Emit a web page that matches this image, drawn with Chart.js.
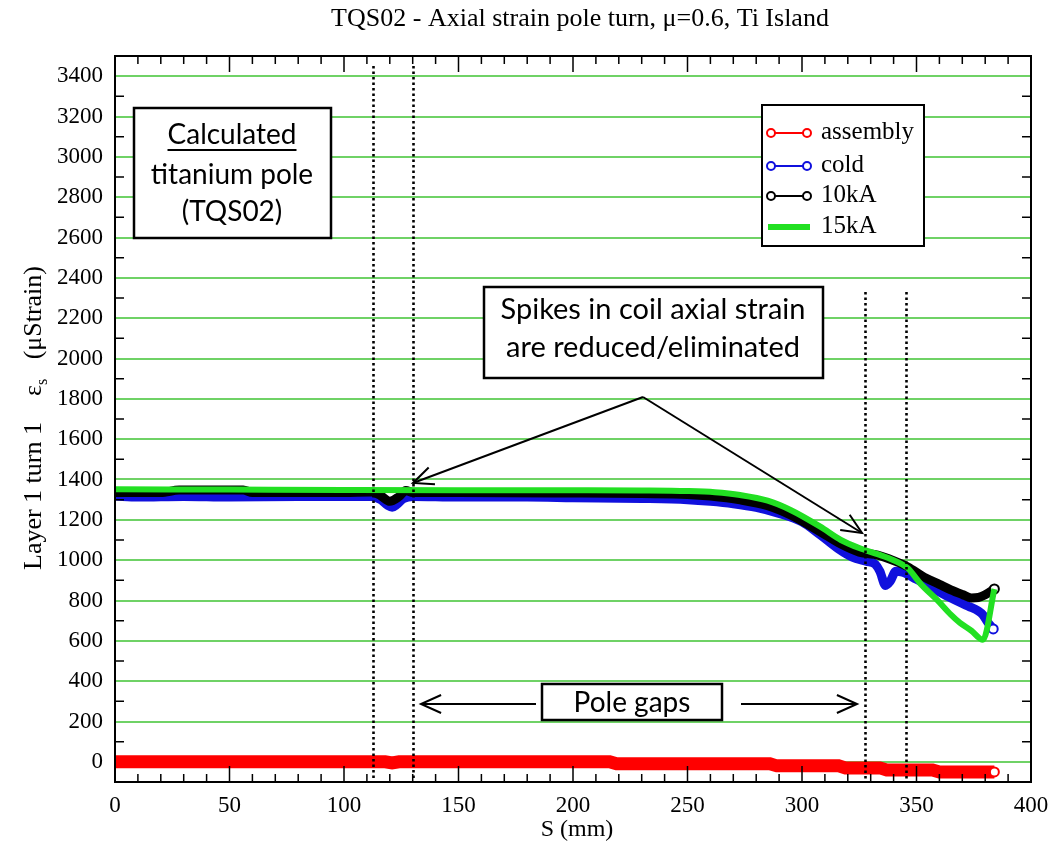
<!DOCTYPE html>
<html><head><meta charset="utf-8">
<script src="https://cdn.jsdelivr.net/npm/chart.js@4.4.1/dist/chart.umd.min.js"></script>
<style>html,body{margin:0;padding:0;background:#fff;}canvas{display:block;}</style>
</head><body>
<canvas id="c" width="1064" height="848"></canvas>
<script>
// ---- data ----
const assemblyS      = [0, 20, 50, 100, 118, 121, 124, 150, 200, 216, 219, 250, 286, 289, 300, 316, 319, 330, 334, 337, 350, 357, 360, 370, 384];
const assemblyStrain = [0, 0, 0, 0, 0, -5, 0, 0, 0, 0, -10, -10, -10, -20, -20, -20, -30, -30, -30, -40, -40, -40, -50, -50, -50];

const coldS      = [0, 10, 30, 50, 80, 100, 112, 116, 119, 121, 123, 126, 130, 150, 180, 200, 230, 250, 260, 270, 280, 290, 300, 308, 316, 322, 328, 332, 334, 336.5, 338.5, 341, 344, 350, 356, 364, 370, 373, 377, 379, 381, 383.5];
const coldStrain = [1318, 1313, 1316, 1313, 1316, 1316, 1316, 1300, 1272, 1262, 1275, 1305, 1316, 1313, 1313, 1310, 1306, 1300, 1292, 1280, 1262, 1232, 1190, 1125, 1055, 1015, 995, 980, 945, 875, 895, 945, 940, 905, 868, 818, 785, 770, 748, 729, 694, 659];

const kA10S      = [0, 20, 28, 56, 60, 100, 112, 116, 120, 124, 127, 130, 150, 200, 230, 250, 260, 273, 285, 295, 308, 317, 325, 333, 340, 346, 354, 360, 365, 370, 374, 377, 380, 384];
const kA10Strain = [1335, 1335, 1348, 1348, 1336, 1336, 1338, 1320, 1292, 1315, 1345, 1336, 1336, 1333, 1330, 1326, 1318, 1299, 1270, 1224, 1141, 1080, 1040, 1025, 998, 968, 912, 880, 853, 830, 813, 815, 828, 857];

const kA15S      = [0, 50, 100, 150, 200, 230, 250, 262, 273, 285, 295, 308, 317, 325, 333, 340, 346, 352, 359, 365, 369, 374, 379, 384];
const kA15Strain = [1352, 1350, 1348, 1347, 1347, 1346, 1343, 1337, 1323, 1295, 1249, 1166, 1100, 1060, 1030, 1000, 962, 880, 803, 730, 689, 650, 605, 857];

const seriesNames  = ['assembly', 'cold', '10kA', '15kA'];
const poleGapS     = [112.5, 130, 327.5, 345.5];
const poleGapTop   = [3450, 3450, 2330, 2330];
const yTickLabels  = [0, 200, 400, 600, 800, 1000, 1200, 1400, 1600, 1800, 2000, 2200, 2400, 2600, 2800, 3000, 3200, 3400];
const xTickLabels  = [0, 50, 100, 150, 200, 250, 300, 350, 400];

// ---- styling ----
const SERIF = '"Liberation Serif", "Times New Roman", serif';
const SANS  = 'Lato, "Liberation Sans", sans-serif';
const GRID_GREEN = '#6fd266';
const COLORS = {assembly:'#ff0000', cold:'#1010dd', k10:'#000000', k15:'#22e022'};

function pts(xs, ys){ return xs.map((x,i)=>({x:x, y:ys[i]})); }
function endMarker(n){ return ctx => ctx.dataIndex === n-1 ? 4.5 : 0; }

function arrow(c, x1, y1, x2, y2){
  c.beginPath(); c.moveTo(x1,y1); c.lineTo(x2,y2); c.stroke();
  const a = Math.atan2(y2-y1, x2-x1), L = 22, w = 0.42;
  c.beginPath();
  c.moveTo(x2 - L*Math.cos(a-w), y2 - L*Math.sin(a-w));
  c.lineTo(x2, y2);
  c.lineTo(x2 - L*Math.cos(a+w), y2 - L*Math.sin(a+w));
  c.stroke();
}
function box(c, x, y, w, h){
  c.fillStyle='#fff'; c.fillRect(x,y,w,h);
  c.strokeStyle='#000'; c.lineWidth=2.5; c.strokeRect(x,y,w,h);
}

const overlay = {
  id:'overlay',
  beforeDraw(chart){
    const c = chart.ctx; c.save(); c.fillStyle='#fff'; c.fillRect(0,0,chart.width,chart.height); c.restore();
  },
  afterDraw(chart){
    const c = chart.ctx, a = chart.chartArea, xs = chart.scales.x, ys = chart.scales.y;
    c.save();
    // pole gap dotted lines
    c.strokeStyle='#000'; c.lineWidth=2.6; c.setLineDash([2.5,3]);
    poleGapS.forEach((s,i)=>{
      const px = Math.round(xs.getPixelForValue(s))+0.5;
      c.beginPath(); c.moveTo(px, ys.getPixelForValue(poleGapTop[i])); c.lineTo(px, a.bottom); c.stroke();
    });
    c.setLineDash([]);
    // frame
    c.strokeStyle='#000'; c.lineWidth=2;
    c.strokeRect(a.left, a.top, a.right-a.left, a.bottom-a.top);
    // inward ticks x
    c.lineWidth=1.5;
    for(let v=10; v<400; v+=10){
      const px = xs.getPixelForValue(v), len = (v%50===0)?16:8;
      c.beginPath(); c.moveTo(px, a.bottom); c.lineTo(px, a.bottom-len);
      c.moveTo(px, a.top); c.lineTo(px, a.top+len); c.stroke();
    }
    // inward ticks y (minor, odd hundreds; majors hidden under grid)
    for(let v=100; v<3500; v+=200){
      const py = ys.getPixelForValue(v);
      c.beginPath(); c.moveTo(a.left, py); c.lineTo(a.left+9, py);
      c.moveTo(a.right, py); c.lineTo(a.right-9, py); c.stroke();
    }
    // title
    c.fillStyle='#000'; c.textAlign='center'; c.textBaseline='middle';
    c.font = '26px '+SERIF;
    c.fillText('TQS02 - Axial strain pole turn, \u03bc=0.6, Ti Island', 580, 19);
    // x title
    c.font = '24px '+SERIF;
    c.fillText('S (mm)', 577, 830);
    // y title (rotated)
    c.save();
    c.translate(33, 418); c.rotate(-Math.PI/2);
    const p1 = 'Layer 1 turn 1    ', p2 = '\u03b5', p3 = 's', p4 = '   (\u03bcStrain)';
    c.font = '26px '+SERIF;
    const w1 = c.measureText(p1).width, w2 = c.measureText(p2).width, w4 = c.measureText(p4).width;
    c.font = '16px '+SERIF; const w3 = c.measureText(p3).width;
    const tot = w1+w2+w3+w4; let x0 = -tot/2;
    c.textAlign='left'; c.textBaseline='alphabetic';
    c.font='26px '+SERIF; c.fillText(p1, x0, 8); x0+=w1; c.fillText(p2, x0, 8); x0+=w2;
    c.font='16px '+SERIF; c.fillText(p3, x0, 14); x0+=w3;
    c.font='26px '+SERIF; c.fillText(p4, x0, 8);
    c.restore();
    // legend
    c.fillStyle='#fff'; c.fillRect(762,105,162,141);
    c.strokeStyle='#000'; c.lineWidth=2; c.strokeRect(762,105,162,141);
    const legY = [133, 166, 196, 227];
    const legC = [COLORS.assembly, COLORS.cold, COLORS.k10, COLORS.k15];
    legY.forEach((y,i)=>{
      c.strokeStyle = legC[i];
      if(i<3){
        c.lineWidth=2; c.beginPath(); c.moveTo(771,y); c.lineTo(807,y); c.stroke();
        [771,807].forEach(cx=>{ c.beginPath(); c.arc(cx,y,4,0,Math.PI*2); c.fillStyle='#fff'; c.fill(); c.lineWidth=2; c.stroke(); });
      } else {
        c.lineWidth=6; c.beginPath(); c.moveTo(768,y); c.lineTo(810,y); c.stroke();
      }
      c.fillStyle='#000'; c.font='25px '+SERIF; c.textAlign='left'; c.textBaseline='middle';
      c.fillText(seriesNames[i], 821, y-1);
    });
    // annotation boxes
    c.textAlign='center'; c.textBaseline='middle';
    box(c, 134, 108, 197, 130);
    c.fillStyle='#000'; c.font='28px '+SANS;
    c.fillText('Calculated', 232, 135);
    const uw = c.measureText('Calculated').width;
    c.lineWidth=2; c.strokeStyle='#000';
    c.beginPath(); c.moveTo(232-uw/2, 150); c.lineTo(232+uw/2, 150); c.stroke();
    c.fillText('titanium pole', 232, 175);
    c.fillText('(TQS02)', 232, 212);

    box(c, 484, 287, 339, 91);
    c.fillStyle='#000'; c.font='29px '+SANS;
    c.fillText('Spikes in coil axial strain', 653, 310);
    c.fillText('are reduced/eliminated', 653, 348);

    box(c, 542, 684, 180, 36);
    c.fillStyle='#000'; c.font='28px '+SANS;
    c.fillText('Pole gaps', 632, 703);

    c.strokeStyle='#000'; c.lineWidth=2;
    arrow(c, 536, 704, 421, 704);
    arrow(c, 741, 704, 857, 704);
    arrow(c, 643, 397, 413, 483);
    arrow(c, 643, 397, 862, 533);
    c.restore();
  }
};

new Chart(document.getElementById('c'), {
  type:'line',
  data:{
    datasets:[
      {label:seriesNames[3], data:pts(kA15S,kA15Strain), borderColor:COLORS.k15, borderWidth:6, pointRadius:0, order:0, cubicInterpolationMode:'monotone'},
      {label:seriesNames[2], data:pts(kA10S,kA10Strain), borderColor:COLORS.k10, borderWidth:9, pointRadius:endMarker(kA10S.length), pointBackgroundColor:'#fff', pointBorderWidth:2, order:1, cubicInterpolationMode:'monotone'},
      {label:seriesNames[1], data:pts(coldS,coldStrain), borderColor:COLORS.cold, borderWidth:9, pointRadius:endMarker(coldS.length), pointBackgroundColor:'#fff', pointBorderWidth:2, order:2, cubicInterpolationMode:'monotone'},
      {label:seriesNames[0], data:pts(assemblyS,assemblyStrain), borderColor:COLORS.assembly, borderWidth:13, pointRadius:endMarker(assemblyS.length), pointBackgroundColor:'#fff', pointBorderWidth:2, order:3}
    ]
  },
  options:{
    responsive:false, animation:false,
    layout:{padding:{top:56, right:33, left:0, bottom:0}},
    plugins:{legend:{display:false}, title:{display:false}, tooltip:{enabled:false}},
    scales:{
      x:{type:'linear', min:0, max:400,
        afterFit: s => { s.height = 66; },
        grid:{display:false, drawTicks:false}, border:{display:false},
        ticks:{stepSize:10, autoSkip:false, maxRotation:0, padding:10, color:'#000',
          font:{family:SERIF, size:23},
          callback: v => xTickLabels.includes(v) ? String(v) : ''}
      },
      y:{type:'linear', min:-100, max:3500,
        afterFit: s => { s.width = 115; },
        grid:{drawTicks:false, lineWidth:2,
          color: ctx => (ctx.tick && yTickLabels.includes(ctx.tick.value)) ? GRID_GREEN : 'rgba(0,0,0,0)'},
        border:{display:false},
        ticks:{stepSize:100, autoSkip:false, padding:12, color:'#000',
          font:{family:SERIF, size:23},
          callback: v => yTickLabels.includes(v) ? String(v) : ''}
      }
    }
  },
  plugins:[overlay]
});
</script>
</body></html>
